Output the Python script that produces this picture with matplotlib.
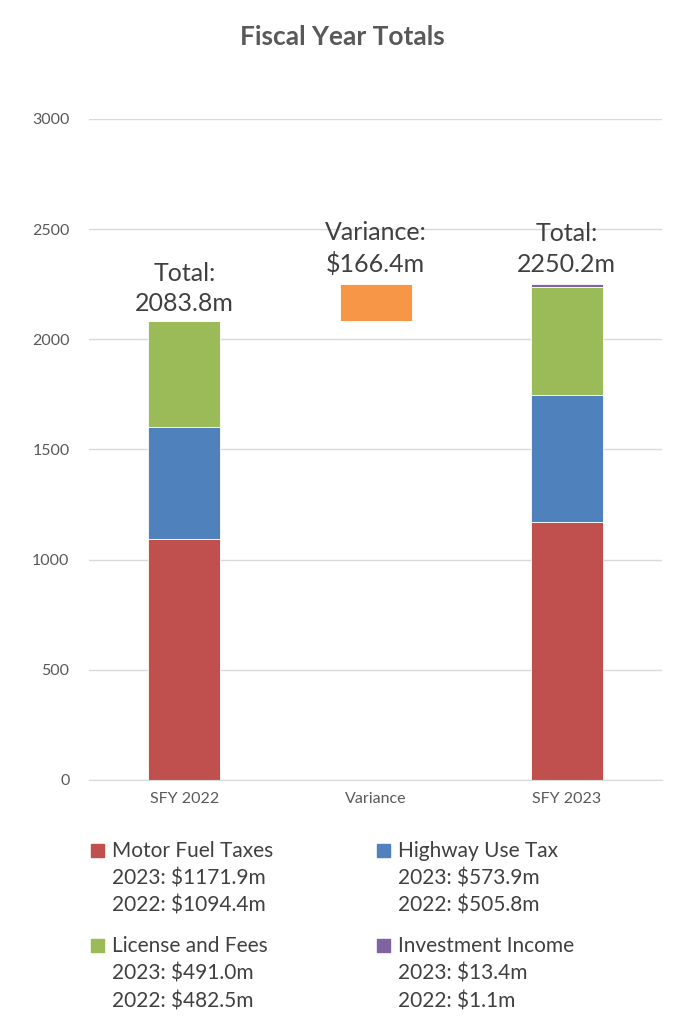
import numpy as np
import matplotlib
matplotlib.use("Agg")
import matplotlib.pyplot as plt
from matplotlib.patches import Rectangle

plt.rcParams["font.family"] = ["Lato", "DejaVu Sans"]

categories = ["SFY 2022", "Variance", "SFY 2023"]
series = ["Motor Fuel Taxes", "Highway Use Tax", "License and Fees", "Investment Income"]
vals_2022 = [1094.4, 505.8, 482.5, 1.1]
vals_2023 = [1171.9, 573.9, 491.0, 13.4]
colors = ["#C0504D", "#4F81BD", "#9BBB59", "#8064A2"]
variance_color = "#F79646"

total_2022 = sum(vals_2022)
total_2023 = sum(vals_2023)
variance = total_2023 - total_2022

fig = plt.figure(figsize=(6.84, 10.16), dpi=100)
ax = fig.add_axes([0.130, 0.2323, 0.838, 0.6506])

x = np.arange(len(categories))
w = 0.377
bottom22 = 0.0
bottom23 = 0.0
for v22, v23, c in zip(vals_2022, vals_2023, colors):
    ax.bar(x[0], v22, w, bottom=bottom22, color=c, edgecolor="white", linewidth=0.6)
    ax.bar(x[2], v23, w, bottom=bottom23, color=c, edgecolor="white", linewidth=0.6)
    bottom22 += v22
    bottom23 += v23

# floating variance bar
ax.bar(x[1], variance, w, bottom=total_2022, color=variance_color,
       edgecolor="white", linewidth=0.6)

txt_kw = dict(ha="center", va="bottom", fontsize=18, color="#404040",
              linespacing=1.4, textcoords="offset points")
ax.annotate(f"Total:\n{total_2022:.1f}m", (x[0], total_2022), xytext=(0, 4), **txt_kw)
ax.annotate(f"Variance:\n${variance:.1f}m", (x[1], total_2023), xytext=(0, 6), **txt_kw)
ax.annotate(f"Total:\n{total_2023:.1f}m", (x[2], total_2023), xytext=(0, 6), **txt_kw)

ax.set_xlim(-0.5, 2.5)
ax.set_ylim(0, 3000)
ax.set_yticks(np.arange(0, 3001, 500))
ax.set_xticks(x)
ax.set_xticklabels(categories)
ax.tick_params(axis="both", length=0, labelsize=11.5, labelcolor="#595959")
ax.tick_params(axis="y", pad=14)
ax.tick_params(axis="x", pad=9)
ax.grid(axis="y", color="#D9D9D9", linewidth=1)
ax.set_axisbelow(True)
for s in ["top", "right", "left"]:
    ax.spines[s].set_visible(False)
ax.spines["bottom"].set_color("#D9D9D9")

fig.text(0.5, 1 - 37 / 1016, "Fiscal Year Totals", ha="center", va="center",
         fontsize=19, fontweight="bold", color="#595959")

# legend, laid out like the Excel one
W, H = 684, 1016
lx = [91, 377]
ly = [851, 946]
for i, (name, c, v23, v22) in enumerate(zip(series, colors, vals_2023, vals_2022)):
    px = lx[i % 2]
    py = ly[i // 2]
    fig.patches.append(Rectangle((px / W, 1 - (py + 6) / H), 13 / W, 13 / H,
                                 transform=fig.transFigure, color=c))
    lines = [name, f"2023: ${v23:.1f}m", f"2022: ${v22:.1f}m"]
    for j, line in enumerate(lines):
        fig.text((px + 21) / W, 1 - (py + j * 27.5) / H, line, ha="left", va="center",
                 fontsize=15, color="#404040")

fig.savefig("out.png", dpi=100)
